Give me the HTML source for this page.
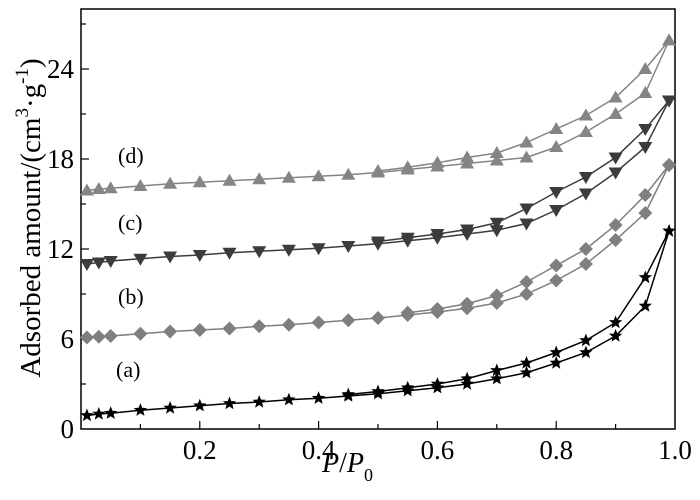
<!DOCTYPE html>
<html><head><meta charset="utf-8"><style>
body{margin:0;background:#fff}
svg{display:block;font-family:"Liberation Serif",serif}
</style></head><body>
<svg id="chart" width="700" height="500" viewBox="0 0 700 500" xmlns="http://www.w3.org/2000/svg">
<g id="axes"></g>
<g id="marks"></g>
<text x="118" y="163" font-size="22">(d)</text>
<text x="118" y="230" font-size="22">(c)</text>
<text x="118" y="304" font-size="22">(b)</text>
<text x="116" y="377" font-size="22">(a)</text>
<text x="322" y="472" font-size="28"><tspan font-style="italic">P</tspan>/<tspan font-style="italic">P</tspan><tspan font-size="18" dy="9">0</tspan></text>
<text transform="translate(40,218) rotate(-90)" text-anchor="middle" font-size="29">Adsorbed amount/(cm<tspan font-size="19" dy="-12">3</tspan><tspan dy="12">·g</tspan><tspan font-size="19" dy="-12">-1</tspan><tspan dy="12">)</tspan></text>
</svg>
<script>
const xs=[0.01,0.03,0.05,0.1,0.15,0.2,0.25,0.3,0.35,0.4,0.45,0.5,0.55,0.6,0.65,0.7,0.75,0.8,0.85,0.9,0.95,0.99];
const aAds=[0.9,1.0,1.05,1.25,1.4,1.55,1.7,1.8,1.95,2.05,2.2,2.35,2.55,2.75,3.0,3.35,3.75,4.4,5.1,6.2,8.2,13.2];
const aDesX=[0.45,0.5,0.55,0.6,0.65,0.7,0.75,0.8,0.85,0.9,0.95,0.99];
const aDes=[2.3,2.5,2.75,3.0,3.35,3.9,4.4,5.1,5.9,7.1,10.1,13.2];
const bAds=[6.1,6.15,6.2,6.35,6.5,6.6,6.7,6.85,6.95,7.1,7.25,7.4,7.6,7.8,8.05,8.4,9.0,9.9,11.0,12.6,14.4,17.6];
const bDesX=[0.55,0.6,0.65,0.7,0.75,0.8,0.85,0.9,0.95,0.99];
const bDes=[7.75,8.0,8.35,8.9,9.8,10.9,12.0,13.6,15.6,17.6];
const cAds=[11.0,11.1,11.2,11.35,11.5,11.6,11.75,11.85,11.95,12.05,12.2,12.35,12.55,12.75,13.0,13.25,13.7,14.6,15.7,17.1,18.8,21.9];
const cDesX=[0.5,0.55,0.6,0.65,0.7,0.75,0.8,0.85,0.9,0.95,0.99];
const cDes=[12.5,12.75,13.0,13.3,13.75,14.7,15.8,16.8,18.1,20.0,21.9];
const dAds=[15.9,16.0,16.05,16.2,16.35,16.45,16.55,16.65,16.75,16.85,16.95,17.1,17.3,17.5,17.7,17.9,18.1,18.8,19.8,21.0,22.4,25.9];
const dDesX=[0.5,0.55,0.6,0.65,0.7,0.75,0.8,0.85,0.9,0.95,0.99];
const dDes=[17.2,17.45,17.75,18.1,18.4,19.1,20.0,20.9,22.1,24.0,25.9];
const yTicks=[0,6,12,18,24];
const xTicks=[0.2,0.4,0.6,0.8,1.0];
const xTickLabels=["0.2","0.4","0.6","0.8","1.0"];

const L=81,R=675,T=9,B=429;
const X=v=>L+v*594;
const Y=v=>B-v*15;
const NS="http://www.w3.org/2000/svg";
function mk(tag,attrs,parent){const e=document.createElementNS(NS,tag);for(const k in attrs)e.setAttribute(k,attrs[k]);parent.appendChild(e);return e;}
const ax=document.getElementById('axes'),mg=document.getElementById('marks');
const frame=mk('rect',{x:L,y:T,width:R-L,height:B-T,fill:'none',stroke:'#000','stroke-width':1.5},ax);


for(let v=3;v<=27;v+=3){const t=mk('line',{x1:L,x2:L+(v%6===0?8:5),y1:Y(v),y2:Y(v),stroke:'#000','stroke-width':1.2},ax);

}
yTicks.forEach(v=>{const t=mk('text',{x:L-7,y:Y(v)+9,'text-anchor':'end','font-size':27},ax);t.textContent=v;

});
for(let i=1;i<=9;i++){const v=i/10;const t=mk('line',{x1:X(v),x2:X(v),y1:B,y2:B-(i%2===0?8:5),stroke:'#000','stroke-width':1.2},ax);

}
xTicks.forEach((v,i)=>{const t=mk('text',{x:X(v),y:B+30,'text-anchor':'middle','font-size':27},ax);t.textContent=xTickLabels[i];

});

function marker(type,x,y,col,g){
  let p;
  if(type==='star'){let pts=[];for(let k=0;k<10;k++){const r=k%2?3:7;const a=-Math.PI/2+k*Math.PI/5;pts.push((x+r*Math.cos(a)).toFixed(1)+','+(y+r*Math.sin(a)).toFixed(1));}p=mk('polygon',{points:pts.join(' '),fill:col},g);}
  else if(type==='diamond'){p=mk('polygon',{points:`${x},${y-7} ${x+7},${y} ${x},${y+7} ${x-7},${y}`,fill:col},g);}
  else if(type==='down'){p=mk('polygon',{points:`${x-7},${y-5} ${x+7},${y-5} ${x},${y+7}`,fill:col},g);}
  else {p=mk('polygon',{points:`${x-7},${y+5} ${x+7},${y+5} ${x},${y-7}`,fill:col},g);}
  
  
}
function series(name,xv,yv,type,col){
  const g=mk('g',{},mg);
  
  
  const line=mk('polyline',{points:xv.map((x,i)=>X(x)+','+Y(yv[i])).join(' '),fill:'none',stroke:col,'stroke-width':1.5},g);
  
  
  xv.forEach((x,i)=>marker(type,X(x),Y(yv[i]),col,g));
}
series('series-a-adsorption',xs,aAds,'star','#000');
series('series-a-desorption',aDesX,aDes,'star','#000');
series('series-b-adsorption',xs,bAds,'diamond','#7f7f7f');
series('series-b-desorption',bDesX,bDes,'diamond','#7f7f7f');
series('series-c-adsorption',xs,cAds,'down','#3c3c3c');
series('series-c-desorption',cDesX,cDes,'down','#3c3c3c');
series('series-d-adsorption',xs,dAds,'up','#858585');
series('series-d-desorption',dDesX,dDes,'up','#858585');
</script>
</body></html>
